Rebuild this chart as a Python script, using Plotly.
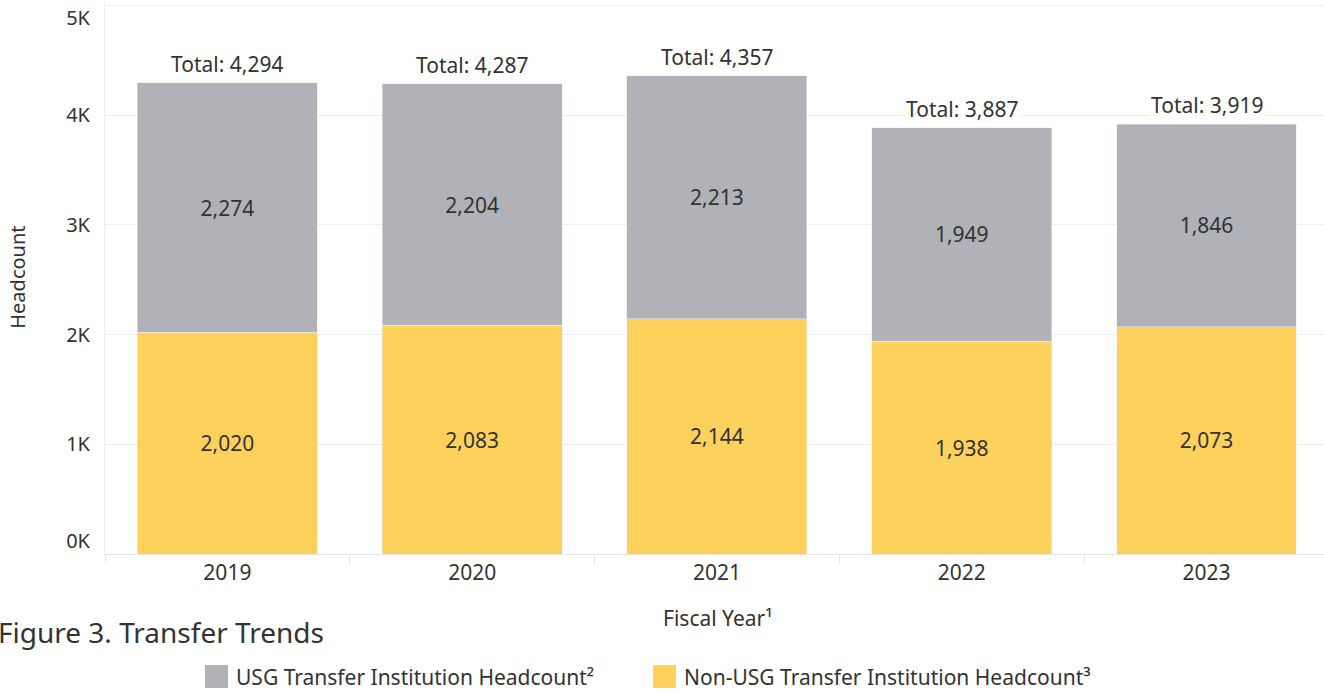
import plotly.graph_objects as go

years = ["2019", "2020", "2021", "2022", "2023"]
usg = [2274, 2204, 2213, 1949, 1846]
non_usg = [2020, 2083, 2144, 1938, 2073]
totals = [4294, 4287, 4357, 3887, 3919]

y_ticks = [0, 1000, 2000, 3000, 4000, 5000]
# end labels nudged inwards the way the original does it
y_tick_labels = ["0K<br> ", "1K", "2K", "3K", "4K", " <br>5K"]

usg_name = "USG Transfer Institution Headcount²"
non_usg_name = "Non-USG Transfer Institution Headcount³"

GRAY = "#b0b2b7"
YELLOW = "#fed15c"
TEXT = "#333333"
FONT = "Noto Sans"

fig = go.Figure()
fig.add_bar(x=years, y=non_usg, name=non_usg_name, marker_color=YELLOW,
            text=[f"{v:,}" for v in non_usg], textposition="inside",
            insidetextanchor="middle", textfont=dict(size=21, color=TEXT))
fig.add_bar(x=years, y=usg, name=usg_name, marker_color=GRAY,
            text=[f"{v:,}" for v in usg], textposition="inside",
            insidetextanchor="middle", textfont=dict(size=21, color=TEXT))

# total labels above each stack (category axis -> use index positions)
for i, t in enumerate(totals):
    fig.add_annotation(x=i, y=t, text=f"Total: {t:,}", showarrow=False,
                       yanchor="bottom", yshift=3, bgcolor="white",
                       font=dict(size=21, color=TEXT))

# titles
fig.add_annotation(text="Fiscal Year¹", xref="paper", yref="paper",
                   x=0.503, y=-0.116, showarrow=False, yanchor="middle",
                   font=dict(size=21, color=TEXT))
fig.add_annotation(text="Headcount", xref="paper", yref="paper",
                   x=-0.072, y=0.50, showarrow=False, textangle=-90,
                   xanchor="center", yanchor="middle",
                   font=dict(size=20, color=TEXT))
fig.add_annotation(text="Figure 3. Transfer Trends", xref="paper", yref="paper",
                   x=-0.0895, y=-0.141, showarrow=False, xanchor="left",
                   yanchor="middle", font=dict(size=28, color=TEXT))

# hand-drawn legend with big swatches
legend_items = [(usg_name, GRAY, 205), (non_usg_name, YELLOW, 653)]
for name, col, px in legend_items:
    fig.add_shape(type="rect", xref="paper", yref="paper",
                  x0=(px - 105) / 1219, x1=(px + 23 - 105) / 1219,
                  y0=(554 - 688) / 553, y1=(554 - 665) / 553,
                  fillcolor=col, line_width=0)
    fig.add_annotation(text=name, xref="paper", yref="paper",
                       x=(px + 29 - 105) / 1219, y=(554 - 677) / 553,
                       showarrow=False, xanchor="left", yanchor="middle",
                       font=dict(size=21, color=TEXT))

fig.update_layout(
    width=1324, height=692, autosize=False,
    barmode="stack", bargap=0.265, showlegend=False,
    plot_bgcolor="white", paper_bgcolor="white",
    font=dict(family=FONT, color=TEXT),
    margin=dict(l=105, r=0, t=1, b=138),
    uniformtext=dict(mode="show", minsize=10),
)
fig.update_xaxes(type="category", range=[-0.5, 4.48], showgrid=False,
                 showline=True, linecolor="#e4e4e4", linewidth=1,
                 ticks="outside", tickson="boundaries", ticklen=8,
                 tickcolor="#e4e4e4", automargin=False,
                 tickfont=dict(size=21, color=TEXT))
fig.update_yaxes(range=[0, 5040], tickvals=y_ticks, ticktext=y_tick_labels,
                 showgrid=True, gridcolor="#eeeeee", zeroline=False,
                 showline=True, linecolor="#eeeeee", ticklabelstandoff=10,
                 ticklabeloverflow="allow", automargin=False,
                 tickfont=dict(size=20, color=TEXT))

fig.write_html("out.html", config={"displayModeBar": False},
               post_script="document.body.style.margin='0';")
